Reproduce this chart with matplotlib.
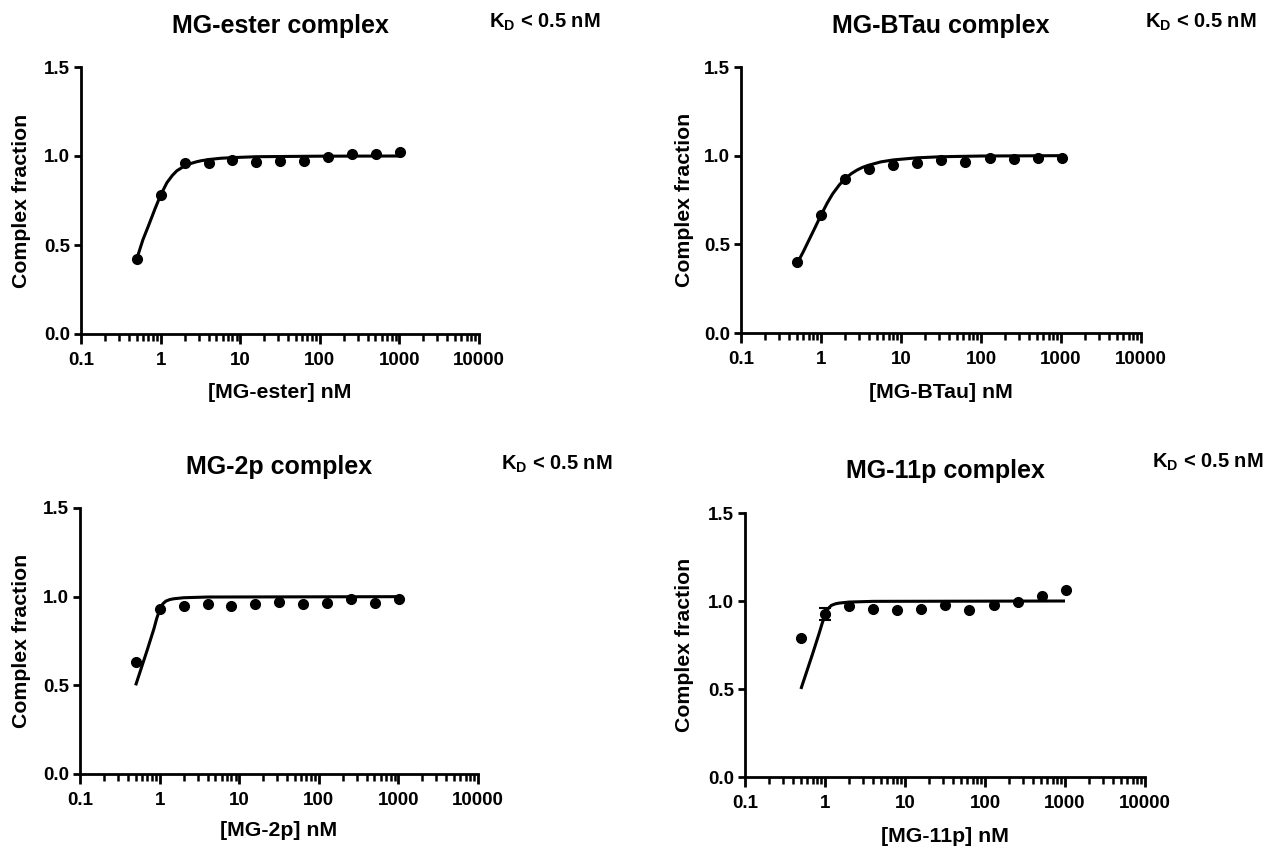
import matplotlib
matplotlib.use('Agg')
import matplotlib.pyplot as plt
from matplotlib.ticker import LogLocator, NullFormatter

plt.rcParams['font.family'] = ['Liberation Sans', 'DejaVu Sans']
plt.rcParams['font.weight'] = 'bold'
plt.rcParams['mathtext.fontset'] = 'custom'
plt.rcParams['mathtext.rm'] = 'Liberation Sans:bold'
plt.rcParams['mathtext.bf'] = 'Liberation Sans:bold'

W, H = 1278, 848

# concentrations (nM), two-fold dilution series
conc = [0.5, 1, 2, 4, 8, 16, 32, 64, 128, 256, 512, 1024]

# measured complex fraction
ester_frac = [0.42, 0.78, 0.96, 0.96, 0.98, 0.965, 0.97, 0.97, 0.995, 1.01, 1.01, 1.02]
btau_frac = [0.40, 0.665, 0.87, 0.925, 0.95, 0.96, 0.975, 0.965, 0.985, 0.98, 0.987, 0.985]
p2_frac = [0.63, 0.93, 0.945, 0.96, 0.95, 0.96, 0.97, 0.96, 0.965, 0.985, 0.965, 0.987]
p11_frac = [0.79, 0.925, 0.97, 0.956, 0.947, 0.956, 0.975, 0.95, 0.98, 0.994, 1.03, 1.06]
# only the 1 nM point of MG-11p has a visible error bar
p11_err_x = [1]
p11_err_y = [0.925]
p11_err = [0.035]

# fitted curves
ester_fit_x = [0.5, 0.6, 0.7, 0.85, 1, 1.2, 1.4, 1.6, 2, 2.4, 2.8, 3.2, 4, 5.6, 8, 16, 100, 1000]
ester_fit_y = [0.42, 0.53, 0.605, 0.703, 0.78, 0.85, 0.89, 0.917, 0.944, 0.958, 0.967, 0.973,
               0.98, 0.987, 0.991, 0.996, 0.999, 1.0]
btau_fit_x = [0.5, 0.6, 0.7, 0.85, 1, 1.2, 1.4, 1.7, 2, 2.4, 2.8, 3.3, 4, 5.6, 8, 16, 32, 100, 1000]
btau_fit_y = [0.39, 0.458, 0.52, 0.598, 0.665, 0.734, 0.785, 0.836, 0.87, 0.899, 0.918, 0.934,
              0.947, 0.965, 0.976, 0.988, 0.994, 0.998, 1.0]
p2_fit_x = [0.5, 0.7, 0.85, 0.92, 1, 1.1, 1.2, 1.35, 1.5, 2, 4, 1000]
p2_fit_y = [0.5, 0.7, 0.82, 0.877, 0.925, 0.96, 0.975, 0.984, 0.988, 0.994, 0.998, 1.0]
p11_fit_x = [0.5, 0.7, 0.85, 0.92, 1, 1.1, 1.2, 1.35, 1.5, 2, 4, 1000]
p11_fit_y = [0.5, 0.7, 0.82, 0.872, 0.92, 0.958, 0.975, 0.984, 0.988, 0.994, 0.998, 1.0]

titles = ['MG-ester complex', 'MG-BTau complex', 'MG-2p complex', 'MG-11p complex']
xlabels = ['[MG-ester] nM', '[MG-BTau] nM', '[MG-2p] nM', '[MG-11p] nM']
kd_text = r'K$_\mathrm{D}$ < 0.5 nM'

xticks = [0.1, 1, 10, 100, 1000, 10000]
xticklabels = ['0.1', '1', '10', '100', '1000', '10000']
yticks = [0, 0.5, 1.0, 1.5]
yticklabels = ['0.0', '0.5', '1.0', '1.5']

fracs = [ester_frac, btau_frac, p2_frac, p11_frac]
fits = [(ester_fit_x, ester_fit_y), (btau_fit_x, btau_fit_y),
        (p2_fit_x, p2_fit_y), (p11_fit_x, p11_fit_y)]

# pixel layout: axes box (left, right, top, bottom), title y, kd x/y, xlabel y, ylabel x
layout = [
    dict(box=(81, 479, 67, 334), ty=26, kx=489, ky=22, xly=393, ylx=22),
    dict(box=(741, 1141, 67, 333), ty=26, kx=1145, ky=22, xly=392, ylx=685),
    dict(box=(80, 478, 508, 774), ty=467, kx=501, ky=464, xly=831, ylx=22),
    dict(box=(745, 1145, 513, 777), ty=471, kx=1152, ky=462, xly=836, ylx=685),
]

fig = plt.figure(figsize=(W / 100, H / 100), dpi=100)

for i in range(4):
    L = layout[i]
    l, r, t, b = L['box']
    ax = fig.add_axes([l / W, 1 - b / H, (r - l) / W, (b - t) / H])
    ax.set_xscale('log')
    ax.set_xlim(0.1, 10000)
    ax.set_ylim(0, 1.5)

    ax.plot(fits[i][0], fits[i][1], color='black', lw=2.2, zorder=2,
            solid_capstyle='butt')
    ax.plot(conc, fracs[i], 'o', color='black', ms=7, zorder=3, clip_on=False)
    if i == 3:
        ax.errorbar(p11_err_x, p11_err_y, yerr=p11_err, fmt='none', ecolor='black',
                    elinewidth=1.5, capsize=4, capthick=1.5, zorder=3)

    for side in ['top', 'right']:
        ax.spines[side].set_visible(False)
    for side in ['left', 'bottom']:
        ax.spines[side].set_linewidth(2)

    ax.set_xticks(xticks)
    ax.set_xticklabels(xticklabels)
    ax.xaxis.set_minor_locator(LogLocator(base=10, subs=range(2, 10), numticks=20))
    ax.xaxis.set_minor_formatter(NullFormatter())
    ax.set_yticks(yticks)
    ax.set_yticklabels(yticklabels)
    ax.tick_params(axis='both', which='major', direction='out', length=7, width=2,
                   labelsize=13.5)
    ax.tick_params(axis='x', which='major', pad=6)
    ax.tick_params(axis='x', which='minor', direction='out', length=5, width=1.8)
    ax.tick_params(axis='y', which='major', length=5, pad=3)
    for lab in ax.get_xticklabels() + ax.get_yticklabels():
        lab.set_fontweight('bold')

    cx = (l + r) / 2 / W
    fig.text(cx, 1 - L['ty'] / H, titles[i], ha='center', va='center',
             fontsize=18, fontweight='bold')
    fig.text(L['kx'] / W, 1 - L['ky'] / H, kd_text, ha='left', va='center',
             fontsize=14.5, fontweight='bold')
    fig.text(cx, 1 - L['xly'] / H, xlabels[i], ha='center', va='center',
             fontsize=15.3, fontweight='bold')
    fig.text(L['ylx'] / W, 1 - (t + b) / 2 / H, 'Complex fraction', ha='center',
             va='center', rotation=90, fontsize=15.3, fontweight='bold')

fig.savefig('out.png', dpi=100)
